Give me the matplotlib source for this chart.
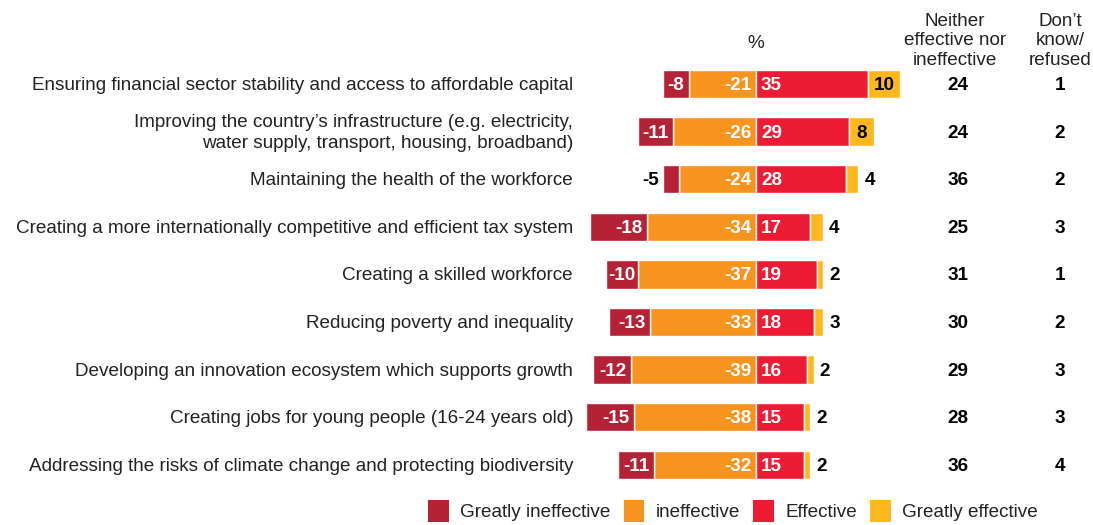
import matplotlib.pyplot as plt
from matplotlib.patches import Patch

plt.rcParams['font.family'] = ['Liberation Sans', 'DejaVu Sans']

categories = [
    'Ensuring financial sector stability and access to affordable capital',
    'Improving the country\u2019s infrastructure (e.g. electricity,\nwater supply, transport, housing, broadband)',
    'Maintaining the health of the workforce',
    'Creating a more internationally competitive and efficient tax system',
    'Creating a skilled workforce',
    'Reducing poverty and inequality',
    'Developing an innovation ecosystem which supports growth',
    'Creating jobs for young people (16-24 years old)',
    'Addressing the risks of climate change and protecting biodiversity',
]
greatly_ineffective = [-8, -11, -5, -18, -10, -13, -12, -15, -11]
ineffective = [-21, -26, -24, -34, -37, -33, -39, -38, -32]
effective = [35, 29, 28, 17, 19, 18, 16, 15, 15]
greatly_effective = [10, 8, 4, 4, 2, 3, 2, 2, 2]
neither = [24, 24, 36, 25, 31, 30, 29, 28, 36]
dont_know = [1, 2, 2, 3, 1, 2, 3, 3, 4]

series_names = ['Greatly ineffective', 'ineffective', 'Effective', 'Greatly effective']
colors = ['#B52135', '#F7941E', '#ED1B34', '#FFB81C']

W, H = 1093, 525
fig = plt.figure(figsize=(W / 100, H / 100), dpi=100)
ax = fig.add_axes([0, 0, 1, 1])

# one x unit = 3.2 px, zero at x=756 px; one row = 47.6 px, first row at y=84 px
px = 3.2
x0 = 756
row = 47.6
ax.set_xlim(-x0 / px, (W - x0) / px)
ax.set_ylim((H - 84) / row, -84 / row)
ax.axis('off')

n = len(categories)
ys = list(range(n))
bh = 0.6
fs = 13.6
vfs = 13.6
pad = 5 / px
dy = 1.5 / row  # nudge text down a touch

for i in ys:
    gi, ie, ef, ge = greatly_ineffective[i], ineffective[i], effective[i], greatly_effective[i]
    ax.barh(i, ie, height=bh, color=colors[1], edgecolor='white', lw=1)
    ax.barh(i, gi, left=ie, height=bh, color=colors[0], edgecolor='white', lw=1)
    ax.barh(i, ef, height=bh, color=colors[2], edgecolor='white', lw=1)
    ax.barh(i, ge, left=ef, height=bh, color=colors[3], edgecolor='white', lw=1)

    t = i + dy
    ax.text(-pad, t, str(ie), ha='right', va='center', color='white',
            fontsize=vfs, fontweight='bold')
    ax.text(pad, t, str(ef), ha='left', va='center', color='white',
            fontsize=vfs, fontweight='bold')
    if abs(gi) >= 8:
        ax.text(ie + gi / 2 if abs(gi) < 12 else ie - pad, t, str(gi),
                ha='center' if abs(gi) < 12 else 'right', va='center',
                color='white', fontsize=vfs, fontweight='bold')
    else:
        ax.text(ie + gi - 4 / px, t, str(gi), ha='right', va='center',
                color='black', fontsize=vfs, fontweight='bold')
    if ge >= 8:
        ax.text(ef + ge / 2, t, str(ge), ha='center', va='center',
                color='black', fontsize=vfs, fontweight='bold')
    else:
        ax.text(ef + ge + 6 / px, t, str(ge), ha='left', va='center',
                color='black', fontsize=vfs, fontweight='bold')

    ax.text((573 - x0) / px, t, categories[i], ha='right', va='center',
            fontsize=fs, color='#222222', linespacing=1.3)
    ax.text((958 - x0) / px, t, str(neither[i]), ha='center', va='center',
            fontsize=vfs, fontweight='bold', color='black')
    ax.text((1060 - x0) / px, t, str(dont_know[i]), ha='center', va='center',
            fontsize=vfs, fontweight='bold', color='black')

# column headers
ax.text(0, (44 - 84) / row, '%', ha='center', va='center', fontsize=fs, color='#222222')
ax.text((955 - x0) / px, (41 - 84) / row, 'Neither\neffective nor\nineffective',
        ha='center', va='center', fontsize=fs, color='#222222', linespacing=1.2)
ax.text((1060 - x0) / px, (41 - 84) / row, 'Don\u2019t\nknow/\nrefused',
        ha='center', va='center', fontsize=fs, color='#222222', linespacing=1.2)

handles = [Patch(facecolor=c, label=s) for c, s in zip(colors, series_names)]
fig.legend(handles=handles, loc='center', bbox_to_anchor=(733 / W, 1 - 511 / H),
           ncol=4, frameon=False, fontsize=fs, handlelength=1.1, handleheight=1.4,
           handletextpad=0.6, columnspacing=0.7, labelcolor='#222222')

fig.savefig('out.png', dpi=100)
